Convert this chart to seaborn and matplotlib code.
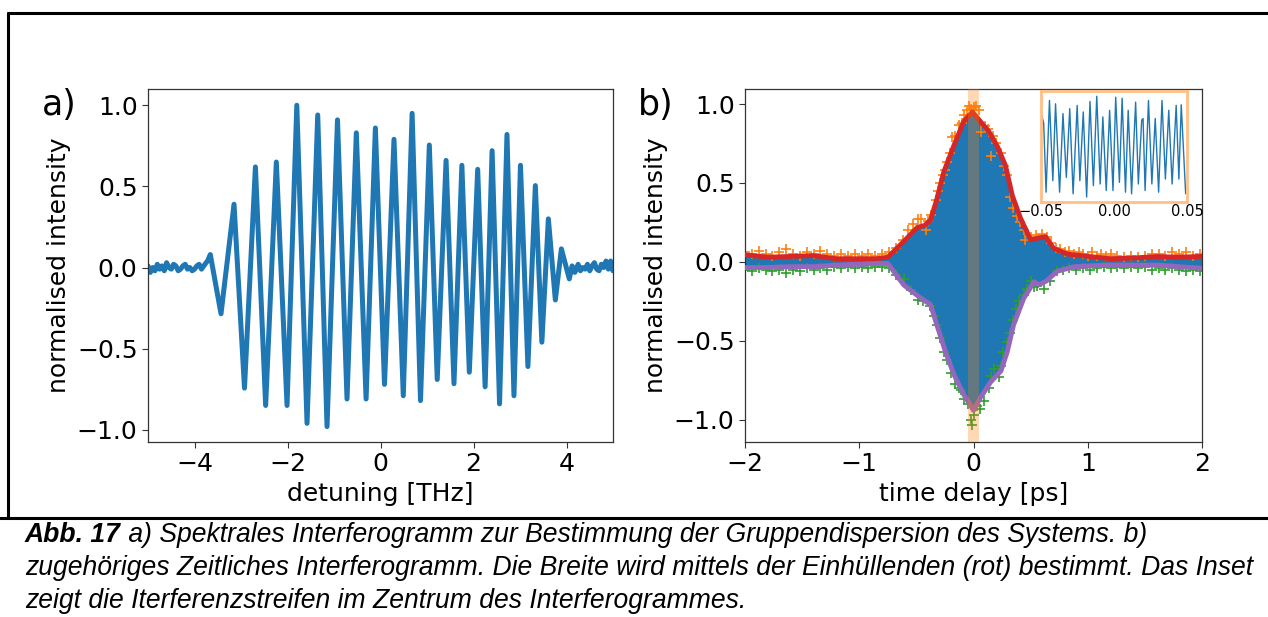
import numpy as np
import matplotlib
matplotlib.use("Agg")
import matplotlib.pyplot as plt
from matplotlib.lines import Line2D
import seaborn as sns

# ---------------- data ----------------
# a) spectral interferogram: detuning [THz] vs normalised intensity
spec_x = [-5.0, -4.95, -4.9, -4.85, -4.8, -4.75, -4.7, -4.65, -4.6, -4.55, -4.5, -4.45, -4.4, -4.35, -4.3,
          -4.25, -4.2, -4.15, -4.1, -4.05, -4.0, -3.95, -3.9, -3.85, -3.8, -3.75, -3.72, -3.66,
          -3.43, -3.15, -2.925, -2.69, -2.47, -2.24, -2.01, -1.80, -1.58, -1.35, -1.15, -0.925, -0.72,
          -0.52, -0.31, -0.11, 0.086, 0.29, 0.49, 0.68, 0.86, 1.05, 1.22, 1.41, 1.58, 1.75, 1.91, 2.09,
          2.25, 2.40, 2.56, 2.72, 2.87, 3.01, 3.17, 3.33, 3.47, 3.61, 3.76, 3.89, 4.06,
          4.12, 4.18, 4.25, 4.3, 4.35, 4.4, 4.45, 4.5, 4.55, 4.6, 4.65, 4.7, 4.75, 4.8, 4.85, 4.9, 4.95, 5.0]
spec_y = [0.01, -0.03, 0.0, -0.02, 0.02, -0.01, 0.01, -0.02, 0.03, 0.0, -0.01, 0.02, 0.01, -0.02, -0.01,
          0.01, 0.02, -0.01, 0.0, -0.02, -0.01, 0.01, 0.02, -0.01, 0.01, 0.03, 0.04, 0.08,
          -0.285, 0.39, -0.743, 0.62, -0.85, 0.65, -0.85, 1.0, -0.96, 0.94, -0.98, 0.91, -0.81,
          0.83, -0.81, 0.86, -0.72, 0.79, -0.79, 0.95, -0.82, 0.755, -0.69, 0.66, -0.716, 0.63, -0.645, 0.605,
          -0.735, 0.72, -0.84, 0.82, -0.79, 0.63, -0.61, 0.505, -0.46, 0.30, -0.20, 0.115, -0.07,
          0.01, -0.03, 0.02, -0.02, 0.0, -0.01, 0.02, -0.02, 0.01, 0.03, -0.01, -0.02, 0.02, 0.0, 0.04,
          -0.01, 0.04, -0.02]

# b) temporal interferogram: envelopes
up_t = [-2.0, -1.8, -1.6, -1.4, -1.2, -1.0, -0.85, -0.75, -0.61, -0.49, -0.43, -0.376, -0.32, -0.26,
        -0.17, -0.085, -0.01, 0.06, 0.135, 0.21, 0.28, 0.34, 0.41, 0.50, 0.56, 0.63, 0.70, 0.82, 1.02,
        1.20, 1.4, 1.61, 1.8, 2.0]
up_v = [0.045, 0.03, 0.035, 0.04, 0.02, 0.02, 0.02, 0.03, 0.13, 0.22, 0.23, 0.266, 0.40, 0.57,
        0.74, 0.89, 0.95, 0.89, 0.825, 0.73, 0.61, 0.42, 0.28, 0.14, 0.15, 0.16, 0.087, 0.05, 0.034,
        0.02, 0.025, 0.034, 0.03, 0.035]
low_t = [-2.0, -1.8, -1.6, -1.4, -1.2, -1.0, -0.85, -0.75, -0.61, -0.46, -0.376, -0.32, -0.245, -0.17,
         -0.085, 0.0, 0.06, 0.15, 0.24, 0.295, 0.35, 0.44, 0.53, 0.57, 0.64, 0.73, 0.88, 1.17, 1.4, 1.61,
         1.8, 2.0]
low_v = [-0.036, -0.035, -0.03, -0.03, -0.02, -0.015, -0.01, -0.01, -0.146, -0.23, -0.27, -0.40, -0.57,
         -0.715, -0.84, -0.94, -0.86, -0.76, -0.69, -0.57, -0.40, -0.23, -0.125, -0.145, -0.12, -0.06,
         -0.03, -0.02, -0.02, -0.02, -0.03, -0.04]

# b) detected fringe maxima (orange +) and minima (green +)
peak_t = [-2.0, -1.94, -1.88, -1.82, -1.76, -1.7, -1.64, -1.58, -1.52, -1.46, -1.4, -1.34, -1.28, -1.22,
          -1.16, -1.1, -1.04, -0.98, -0.92, -0.86, -0.8, -0.74, -0.68, -0.62, -0.57, -0.53, -0.49, -0.46,
          -0.42, -0.40, -0.37, -0.33, -0.31, -0.29, -0.27, -0.25, -0.23, -0.21, -0.19, -0.16, -0.13, -0.1,
          -0.085, -0.06, -0.04, -0.02, 0.0, 0.026, 0.05, 0.07, 0.10, 0.13, 0.15, 0.17, 0.2, 0.24, 0.265,
          0.29, 0.32, 0.35, 0.38, 0.41, 0.44, 0.455, 0.5, 0.55, 0.6, 0.64, 0.68, 0.72, 0.76, 0.8, 0.84,
          0.88, 0.92, 0.96, 1.0, 1.04, 1.08, 1.12, 1.16, 1.2, 1.26, 1.32, 1.38, 1.44, 1.5, 1.56, 1.62,
          1.68, 1.74, 1.8, 1.86, 1.92, 1.98]
peak_v = [0.06, 0.05, 0.07, 0.05, 0.04, 0.06, 0.08, 0.05, 0.04, 0.06, 0.05, 0.07, 0.05, 0.04,
          0.05, 0.04, 0.05, 0.04, 0.05, 0.04, 0.05, 0.06, 0.09, 0.14, 0.2, 0.24, 0.27, 0.27,
          0.20, 0.26, 0.30, 0.39, 0.45, 0.50, 0.55, 0.58, 0.635, 0.69, 0.79, 0.80, 0.87, 0.88,
          0.93, 0.96, 0.99, 0.97, 0.98, 0.99, 0.96, 0.82, 0.86, 0.84, 0.67, 0.80, 0.75, 0.69, 0.61,
          0.55, 0.41, 0.34, 0.29, 0.25, 0.20, 0.14, 0.16, 0.17, 0.18, 0.16, 0.12, 0.09, 0.08, 0.06, 0.07,
          0.05, 0.06, 0.05, 0.04, 0.06, 0.04, 0.05, 0.04, 0.05, 0.04, 0.03, 0.04, 0.03, 0.04, 0.05, 0.05,
          0.04, 0.06, 0.05, 0.06, 0.04, 0.05]
trough_t = [-2.0, -1.94, -1.88, -1.82, -1.76, -1.7, -1.64, -1.58, -1.52, -1.46, -1.4, -1.34, -1.28, -1.22,
            -1.16, -1.1, -1.04, -0.98, -0.92, -0.86, -0.8, -0.74, -0.68, -0.61, -0.55, -0.49, -0.44, -0.38,
            -0.35, -0.32, -0.29, -0.26, -0.23, -0.2, -0.16, -0.13, -0.11, -0.08, -0.05, -0.026, -0.01, 0.0,
            0.03, 0.06, 0.09, 0.135, 0.15, 0.18, 0.22, 0.24, 0.26, 0.29, 0.32, 0.35, 0.37, 0.40, 0.44, 0.47,
            0.50, 0.53, 0.56, 0.62, 0.67, 0.73, 0.78, 0.84, 0.9, 0.96, 1.02, 1.08, 1.14, 1.2, 1.26, 1.32,
            1.38, 1.44, 1.5, 1.56, 1.62, 1.68, 1.74, 1.8, 1.86, 1.92, 1.98]
trough_v = [-0.05, -0.06, -0.04, -0.05, -0.06, -0.05, -0.07, -0.05, -0.06, -0.04, -0.05, -0.04, -0.05, -0.03,
            -0.04, -0.03, -0.04, -0.03, -0.04, -0.03, -0.03, -0.04, -0.08, -0.11, -0.18, -0.24, -0.25, -0.28,
            -0.34, -0.40, -0.48, -0.57, -0.62, -0.70, -0.77, -0.80, -0.81, -0.87, -0.90, -1.0, -1.03, -0.97,
            -0.91, -0.93, -0.88, -0.80, -0.72, -0.68, -0.73, -0.66, -0.57, -0.51, -0.45, -0.37, -0.30, -0.25,
            -0.21, -0.17, -0.12, -0.16, -0.15, -0.17, -0.12, -0.06, -0.05, -0.04, -0.05, -0.04, -0.05, -0.04,
            -0.03, -0.04, -0.03, -0.04, -0.03, -0.04, -0.03, -0.05, -0.04, -0.05, -0.04, -0.05, -0.06, -0.05,
            -0.06]

# inset: fringes in the centre
ins_t = [-0.04954, -0.04815, -0.04653, -0.04421, -0.0419, -0.04005, -0.03727, -0.03495, -0.03264,
         -0.03032, -0.02801, -0.02523, -0.02338, -0.02106, -0.01875, -0.01644, -0.01412, -0.01181,
         -0.0095, -0.00764, -0.00532, -0.003, -0.00069, 0.00116, 0.0037, 0.00556, 0.00787, 0.00972,
         0.01204, 0.01481, 0.01667, 0.01898, 0.01991, 0.0213, 0.02361, 0.02593, 0.02824, 0.03056,
         0.03287, 0.03519, 0.0375, 0.03981, 0.04259, 0.04444, 0.04606, 0.04907]
ins_v = [0.667, 0.5, -0.9, 0.967, -0.667, 0.9, -0.9, 0.7, -0.6, 0.8, -0.933, 0.867, -0.667, 0.733,
         -1.0, 0.947, -0.767, 1.053, -0.733, 0.633, -0.867, 0.767, -0.867, 1.033, -0.7, 1.013, -0.9,
         0.767, -0.933, 0.933, -0.733, 0.567, 0.6, -0.867, 0.967, -0.733, 0.6, -0.9, 0.967, -0.633,
         0.767, -0.733, 0.867, -0.633, 0.88, -0.933]

span_lo, span_hi = -0.05, 0.05
yticks = [-1.0, -0.5, 0.0, 0.5, 1.0]
a_xticks = [-4, -2, 0, 2, 4]
b_xticks = [-2, -1, 0, 1, 2]
ins_xticks = [-0.05, 0.0, 0.05]

caption_bold = "Abb. 17"
caption_l1 = " a) Spektrales Interferogramm zur Bestimmung der Gruppendispersion des Systems. b)"
caption_l2 = ("zugehöriges Zeitliches Interferogramm. Die Breite wird mittels der Einhüllenden "
              "(rot) bestimmt. Das Inset")
caption_l3 = "zeigt die Iterferenzstreifen im Zentrum des Interferogrammes."

# ---------------- style ----------------
sns.set_style("ticks")
plt.rcParams["font.family"] = ["DejaVu Sans"]
plt.rcParams["text.color"] = "black"
plt.rcParams["axes.labelcolor"] = "black"
plt.rcParams["axes.edgecolor"] = "#333333"
plt.rcParams["axes.linewidth"] = 0.9
plt.rcParams["xtick.color"] = "#333333"
plt.rcParams["ytick.color"] = "#333333"
plt.rcParams["xtick.labelcolor"] = "black"
plt.rcParams["ytick.labelcolor"] = "black"

BLUE, ORANGE, GREEN, RED, PURPLE = "#1f77b4", "#ff7f0e", "#2ca02c", "#d62728", "#9467bd"

W, H = 1268, 617
fig = plt.figure(figsize=(W / 100, H / 100), dpi=100)


def rect(l, t, r, b):
    return [l / W, 1 - b / H, (r - l) / W, (b - t) / H]


axa = fig.add_axes(rect(148, 89, 613, 442))
axb = fig.add_axes(rect(745, 89, 1202, 442))
axi = fig.add_axes(rect(1041, 91, 1187, 202))

FS = 18

# ---- panel a ----
sns.lineplot(x=spec_x, y=spec_y, ax=axa, color=BLUE, lw=3.6, sort=False, estimator=None,
             solid_joinstyle="round", solid_capstyle="round")
axa.set_xlim(-5, 5)
axa.set_ylim(-1.075, 1.1)
axa.set_xticks(a_xticks)
axa.set_yticks(yticks)
axa.set_xlabel("detuning [THz]", fontsize=FS)
axa.set_ylabel("normalised intensity", fontsize=FS)
axa.tick_params(labelsize=FS, direction="out", length=4)

# ---- panel b ----
poly_x = list(up_t) + list(low_t[::-1])
poly_y = list(up_v) + list(low_v[::-1])
axb.fill(poly_x, poly_y, color=BLUE, lw=0, zorder=1)
sns.scatterplot(x=peak_t, y=peak_v, ax=axb, marker="+", color=ORANGE, s=60, linewidth=1.2, zorder=2)
sns.scatterplot(x=trough_t, y=trough_v, ax=axb, marker="+", color=GREEN, s=60, linewidth=1.2, zorder=2)
sns.lineplot(x=up_t, y=up_v, ax=axb, color=RED, lw=3.5, sort=False, estimator=None, zorder=3,
             solid_joinstyle="round")
sns.lineplot(x=low_t, y=low_v, ax=axb, color=PURPLE, lw=3.5, sort=False, estimator=None, zorder=3,
             solid_joinstyle="round")
axb.axvspan(span_lo, span_hi, color=ORANGE, alpha=0.3, lw=0, zorder=4)
axb.set_xlim(-2, 2)
axb.set_ylim(-1.14, 1.095)
axb.set_xticks(b_xticks)
axb.set_yticks(yticks)
axb.set_xlabel("time delay [ps]", fontsize=FS)
axb.set_ylabel("normalised intensity", fontsize=FS)
axb.tick_params(labelsize=FS, direction="out", length=4)

# ---- inset ----
sns.lineplot(x=ins_t, y=ins_v, ax=axi, color=BLUE, lw=1.0, sort=False, estimator=None)
axi.set_xlim(-0.05, 0.05)
axi.set_ylim(-1.1, 1.16)
axi.set_yticks([])
axi.set_xticks(ins_xticks)
axi.set_xticklabels(["\u22120.05", "0.00", "0.05"])
axi.tick_params(axis="x", labelsize=10.5, length=0, pad=1.5)
for sp in axi.spines.values():
    sp.set_color("#ffbf86")
    sp.set_linewidth(2.0)
axi.set_facecolor("white")

# ---- panel letters ----
fig.text(42 / W, 1 - 115 / H, "a)", fontsize=25, va="baseline", ha="left", color="black")
fig.text(638 / W, 1 - 115 / H, "b)", fontsize=25, va="baseline", ha="left", color="black")

# ---- frame lines ----
lw_frame = 2.2
fig.add_artist(Line2D([8 / W, 8 / W], [1 - 13 / H, 1 - 518 / H], transform=fig.transFigure,
                      color="black", lw=lw_frame))
fig.add_artist(Line2D([8 / W, 1.0], [1 - 13 / H, 1 - 13 / H], transform=fig.transFigure,
                      color="black", lw=lw_frame))
fig.add_artist(Line2D([0.0, 1.0], [1 - 518 / H, 1 - 518 / H], transform=fig.transFigure,
                      color="black", lw=lw_frame))

# ---- caption ----
cap_font = dict(family=["Liberation Sans", "DejaVu Sans"], style="italic", color="black")
renderer = fig.canvas.get_renderer()
probe = fig.text(0, 0, caption_l2, fontsize=14, **cap_font)
w_probe = probe.get_window_extent(renderer).width
probe.remove()
cap_fs = 14 * (1258 - 25) / w_probe

x0 = 25 / W
tb = fig.text(x0, 1 - 542 / H, caption_bold, fontsize=cap_fs, weight="bold", va="baseline", **cap_font)
bb = tb.get_window_extent(renderer)
fig.text(bb.x1 / W, 1 - 542 / H, caption_l1, fontsize=cap_fs, va="baseline", **cap_font)
fig.text(x0, 1 - 575 / H, caption_l2, fontsize=cap_fs, va="baseline", **cap_font)
fig.text(x0, 1 - 608 / H, caption_l3, fontsize=cap_fs, va="baseline", **cap_font)

fig.savefig("out.png", dpi=100)
